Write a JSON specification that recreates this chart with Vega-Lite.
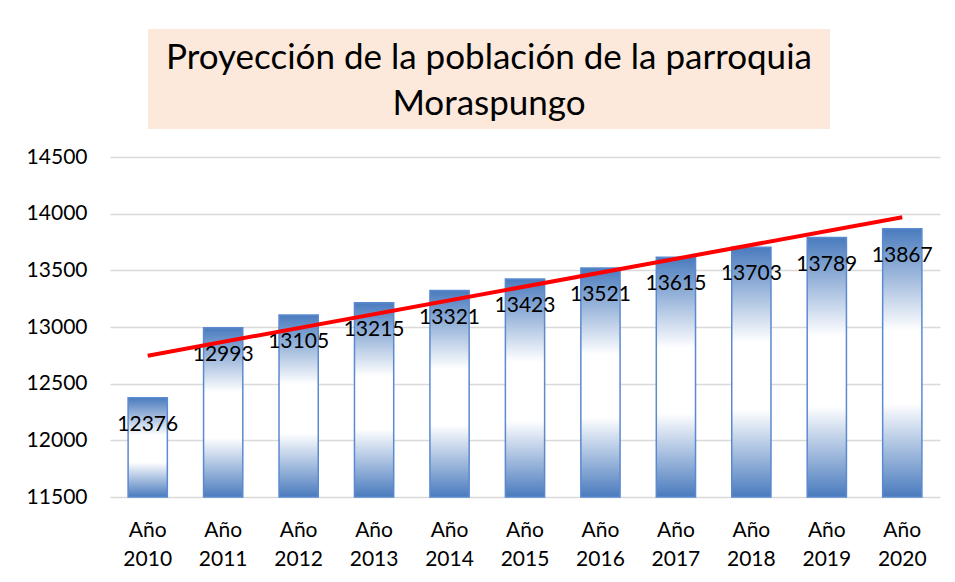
{
  "$schema": "https://vega.github.io/schema/vega-lite/v6.json",
  "background": "white",
  "padding": {"left": 26, "top": 29, "right": 10, "bottom": 5},
  "config": {
    "font": "Lato",
    "view": {"stroke": null}
  },
  "datasets": {
    "poblacion": [
      {"anio": "2010", "poblacion": 12376},
      {"anio": "2011", "poblacion": 12993},
      {"anio": "2012", "poblacion": 13105},
      {"anio": "2013", "poblacion": 13215},
      {"anio": "2014", "poblacion": 13321},
      {"anio": "2015", "poblacion": 13423},
      {"anio": "2016", "poblacion": 13521},
      {"anio": "2017", "poblacion": 13615},
      {"anio": "2018", "poblacion": 13703},
      {"anio": "2019", "poblacion": 13789},
      {"anio": "2020", "poblacion": 13867}
    ],
    "tendencia": [
      {"anio": "2010", "tendencia": 12747},
      {"anio": "2020", "tendencia": 13968}
    ],
    "titulo": [
      {"texto": ["Proyección de la población de la parroquia", "Moraspungo"]}
    ]
  },
  "vconcat": [
    {
      "spacing": 20,
      "hconcat": [
        {
          "width": 18,
          "height": 100,
          "data": {"name": "titulo"},
          "mark": {"type": "text", "opacity": 0},
          "encoding": {}
        },
        {
          "width": 682,
          "height": 100,
          "view": {"fill": "#FCE9DB", "stroke": null},
          "data": {"name": "titulo"},
          "mark": {
            "type": "text",
            "fontSize": 35,
            "lineHeight": 46,
            "color": "#000000",
            "align": "center",
            "baseline": "middle",
            "dy": -21
          },
          "encoding": {"text": {"field": "texto"}}
        }
      ]
    },
    {
      "width": 830,
      "height": 340,
      "layer": [
        {
          "data": {"name": "poblacion"},
          "mark": {
            "type": "bar",
            "stroke": "#5B8AD0",
            "strokeWidth": 1.5,
            "fill": {
              "gradient": "linear",
              "x1": 0, "y1": 0, "x2": 0, "y2": 1,
              "stops": [
                {"offset": 0, "color": "#4A7BBE"},
                {"offset": 0.38, "color": "#FFFFFF"},
                {"offset": 0.65, "color": "#FFFFFF"},
                {"offset": 1, "color": "#4A7BBE"}
              ]
            }
          },
          "encoding": {
            "x": {
              "field": "anio",
              "type": "ordinal",
              "sort": null,
              "scale": {"paddingInner": 0.48, "paddingOuter": 0.24},
              "axis": {
                "title": null,
                "labelAngle": 0,
                "labelExpr": "['Año', datum.label]",
                "labelFontSize": 21,
                "labelLineHeight": 29,
                "labelColor": "#000000",
                "labelPadding": 22,
                "ticks": false,
                "domain": false
              }
            },
            "y": {
              "field": "poblacion",
              "type": "quantitative",
              "scale": {"domain": [11500, 14500], "zero": false, "nice": false},
              "axis": {
                "title": null,
                "values": [11500, 12000, 12500, 13000, 13500, 14000, 14500],
                "format": "d",
                "labelFontSize": 21,
                "labelColor": "#000000",
                "labelPadding": 23,
                "ticks": false,
                "domain": false,
                "gridColor": "#D9D9D9",
                "gridWidth": 1.5
              }
            },
            "y2": {"datum": 11500}
          }
        },
        {
          "data": {"name": "poblacion"},
          "mark": {
            "type": "text",
            "fontSize": 21,
            "color": "#000000",
            "baseline": "middle",
            "dy": 27
          },
          "encoding": {
            "x": {"field": "anio", "type": "ordinal", "sort": null},
            "y": {"field": "poblacion", "type": "quantitative"},
            "text": {"field": "poblacion", "type": "quantitative", "format": "d"}
          }
        },
        {
          "data": {"name": "tendencia"},
          "mark": {"type": "line", "color": "#FF0000", "strokeWidth": 4},
          "encoding": {
            "x": {"field": "anio", "type": "ordinal", "sort": null},
            "y": {"field": "tendencia", "type": "quantitative"}
          }
        }
      ]
    }
  ],
  "spacing": 17
}
